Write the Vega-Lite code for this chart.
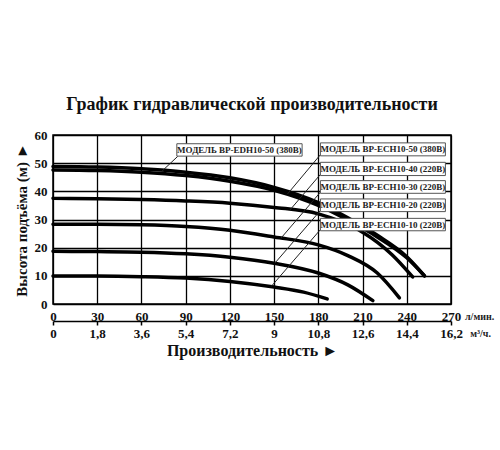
{
  "$schema": "https://vega.github.io/schema/vega-lite/v6.json",
  "autosize": "pad",
  "padding": {"left": 13, "top": 95, "right": 5, "bottom": 5},
  "background": "white",
  "bounds": "flush",
  "spacing": 16,
  "config": {
    "font": "Liberation Serif",
    "view": {"stroke": "black", "strokeWidth": 1.5}
  },
  "datasets": {
    "curves": [
      {"model": "EDH10-50", "flow": 0, "head": 48.8}, {"model": "EDH10-50", "flow": 30, "head": 48.6}, {"model": "EDH10-50", "flow": 60, "head": 48.0}, {"model": "EDH10-50", "flow": 90, "head": 46.8}, {"model": "EDH10-50", "flow": 120, "head": 44.8}, {"model": "EDH10-50", "flow": 150, "head": 41.4}, {"model": "EDH10-50", "flow": 180, "head": 36.0}, {"model": "EDH10-50", "flow": 200, "head": 30.6}, {"model": "EDH10-50", "flow": 220, "head": 24.4}, {"model": "EDH10-50", "flow": 240, "head": 16.8}, {"model": "EDH10-50", "flow": 252, "head": 10.0},
      {"model": "ECH10-50", "flow": 0, "head": 47.6}, {"model": "ECH10-50", "flow": 30, "head": 47.4}, {"model": "ECH10-50", "flow": 60, "head": 46.8}, {"model": "ECH10-50", "flow": 90, "head": 45.6}, {"model": "ECH10-50", "flow": 120, "head": 43.6}, {"model": "ECH10-50", "flow": 150, "head": 40.4}, {"model": "ECH10-50", "flow": 180, "head": 35.0}, {"model": "ECH10-50", "flow": 200, "head": 29.8}, {"model": "ECH10-50", "flow": 220, "head": 23.8}, {"model": "ECH10-50", "flow": 240, "head": 16.4}, {"model": "ECH10-50", "flow": 252, "head": 10.0},
      {"model": "ECH10-40", "flow": 0, "head": 37.5}, {"model": "ECH10-40", "flow": 30, "head": 37.4}, {"model": "ECH10-40", "flow": 60, "head": 37.1}, {"model": "ECH10-40", "flow": 90, "head": 36.6}, {"model": "ECH10-40", "flow": 120, "head": 35.8}, {"model": "ECH10-40", "flow": 150, "head": 34.3}, {"model": "ECH10-40", "flow": 180, "head": 32.0}, {"model": "ECH10-40", "flow": 195, "head": 29.3}, {"model": "ECH10-40", "flow": 210, "head": 25.5}, {"model": "ECH10-40", "flow": 230, "head": 17.5}, {"model": "ECH10-40", "flow": 244, "head": 9.6},
      {"model": "ECH10-30", "flow": 0, "head": 28.3}, {"model": "ECH10-30", "flow": 30, "head": 28.3}, {"model": "ECH10-30", "flow": 60, "head": 28.1}, {"model": "ECH10-30", "flow": 90, "head": 27.5}, {"model": "ECH10-30", "flow": 120, "head": 26.2}, {"model": "ECH10-30", "flow": 150, "head": 23.8}, {"model": "ECH10-30", "flow": 180, "head": 21.0}, {"model": "ECH10-30", "flow": 200, "head": 17.2}, {"model": "ECH10-30", "flow": 220, "head": 11.0}, {"model": "ECH10-30", "flow": 235, "head": 2.2},
      {"model": "ECH10-20", "flow": 0, "head": 18.7}, {"model": "ECH10-20", "flow": 30, "head": 18.6}, {"model": "ECH10-20", "flow": 60, "head": 18.4}, {"model": "ECH10-20", "flow": 90, "head": 17.8}, {"model": "ECH10-20", "flow": 120, "head": 16.6}, {"model": "ECH10-20", "flow": 150, "head": 14.5}, {"model": "ECH10-20", "flow": 180, "head": 11.0}, {"model": "ECH10-20", "flow": 200, "head": 6.8}, {"model": "ECH10-20", "flow": 217, "head": 1.2},
      {"model": "ECH10-10", "flow": 0, "head": 9.9}, {"model": "ECH10-10", "flow": 30, "head": 9.9}, {"model": "ECH10-10", "flow": 60, "head": 9.7}, {"model": "ECH10-10", "flow": 90, "head": 9.2}, {"model": "ECH10-10", "flow": 120, "head": 8.0}, {"model": "ECH10-10", "flow": 150, "head": 6.0}, {"model": "ECH10-10", "flow": 170, "head": 4.2}, {"model": "ECH10-10", "flow": 186, "head": 1.8}
    ],
    "boxes": [
      {"flow": 84, "flow2": 169, "head": 52.5, "head2": 56.9},
      {"flow": 181.4, "flow2": 266.2, "head": 52.6, "head2": 57.2},
      {"flow": 181.4, "flow2": 266.2, "head": 45.6, "head2": 50.3},
      {"flow": 181.4, "flow2": 266.2, "head": 39.3, "head2": 43.8},
      {"flow": 181.4, "flow2": 266.2, "head": 32.8, "head2": 37.3},
      {"flow": 181.4, "flow2": 266.2, "head": 26.0, "head2": 30.4}
    ],
    "labels": [
      {"label": "МОДЕЛЬ BP-EDH10-50 (380В)", "flow": 126.5, "head": 54.7},
      {"label": "МОДЕЛЬ BP-ECH10-50 (380В)", "flow": 223.8, "head": 54.9},
      {"label": "МОДЕЛЬ BP-ECH10-40 (220В)", "flow": 223.8, "head": 47.95},
      {"label": "МОДЕЛЬ BP-ECH10-30 (220В)", "flow": 223.8, "head": 41.55},
      {"label": "МОДЕЛЬ BP-ECH10-20 (220В)", "flow": 223.8, "head": 35.05},
      {"label": "МОДЕЛЬ BP-ECH10-10 (220В)", "flow": 223.8, "head": 28.2}
    ],
    "leaders": [
      {"flow": 85, "head": 52.6, "flow2": 74, "head2": 47.2},
      {"flow": 181.4, "head": 53.0, "flow2": 159, "head2": 39.0},
      {"flow": 181.4, "head": 46.0, "flow2": 160.8, "head2": 33.4},
      {"flow": 181.4, "head": 39.7, "flow2": 154.7, "head2": 23.4},
      {"flow": 181.4, "head": 33.2, "flow2": 150.5, "head2": 14.5},
      {"flow": 181.4, "head": 26.4, "flow2": 148, "head2": 6.2}
    ],
    "units": [
      {"u": "л/мин.", "flow": 279.5, "head": -4.6},
      {"u": "м³/ч.", "flow": 283, "head": -10.6}
    ],
    "ticks": [{"flow": 0}, {"flow": 30}, {"flow": 60}, {"flow": 90}, {"flow": 120}, {"flow": 150}, {"flow": 180}, {"flow": 210}, {"flow": 240}, {"flow": 270}]
  },
  "vconcat": [
    {
      "title": {"text": "График гидравлической производительности", "fontSize": 18, "fontWeight": "bold", "anchor": "middle", "frame": "group", "offset": 15, "color": "#111"},
      "width": 398,
      "height": 169,
      "encoding": {
        "x": {"field": "flow", "type": "quantitative", "scale": {"domain": [0, 270], "nice": false},
          "axis": {"orient": "bottom", "values": [0, 30, 60, 90, 120, 150, 180, 210, 240, 270], "grid": true, "gridColor": "black", "gridWidth": 1.3, "gridOpacity": 1, "domain": false, "ticks": false, "tickSize": 0, "labelPadding": 6, "labelFontSize": 13, "labelFontWeight": "bold", "labelColor": "#111", "labelFlush": false, "labelOverlap": false, "labelBound": false, "title": null}},
        "y": {"field": "head", "type": "quantitative", "scale": {"domain": [0, 60], "nice": false},
          "axis": {"values": [0, 10, 20, 30, 40, 50, 60], "grid": true, "gridColor": "black", "gridWidth": 1.3, "gridOpacity": 1, "domain": false, "ticks": false, "tickSize": 0, "labelPadding": 6, "labelFontSize": 13, "labelFontWeight": "bold", "labelColor": "#111", "labelFlush": false, "labelOverlap": false, "title": "Высота подъёма (м) ►", "titleFontSize": 15, "titleFontWeight": "bold", "titleColor": "#111", "titlePadding": 5}}
      },
      "layer": [
        {
          "data": {"name": "curves"},
          "mark": {"type": "line", "interpolate": "monotone", "color": "black", "strokeWidth": 3.5, "strokeCap": "round"},
          "encoding": {"detail": {"field": "model"}}
        },
        {
          "data": {"name": "leaders"},
          "mark": {"type": "rule", "color": "#222", "strokeWidth": 1},
          "encoding": {"x2": {"field": "flow2"}, "y2": {"field": "head2"}}
        },
        {
          "data": {"name": "boxes"},
          "mark": {"type": "rect", "fill": "white", "stroke": "#555", "strokeWidth": 1},
          "encoding": {"x2": {"field": "flow2"}, "y2": {"field": "head2"}}
        },
        {
          "data": {"name": "labels"},
          "mark": {"type": "text", "fontSize": 9, "fontWeight": "bold", "color": "#222", "align": "center", "baseline": "middle"},
          "encoding": {"text": {"field": "label"}}
        },
        {
          "data": {"name": "units"},
          "mark": {"type": "text", "fontSize": 10, "fontWeight": "bold", "color": "#222", "align": "left", "baseline": "middle"},
          "encoding": {"text": {"field": "u"}}
        }
      ]
    },
    {
      "width": 398,
      "height": 1,
      "view": {"stroke": null},
      "data": {"name": "ticks"},
      "mark": {"type": "point", "opacity": 0},
      "encoding": {
        "x": {"field": "flow", "type": "quantitative", "scale": {"domain": [0, 270], "nice": false},
          "axis": {"orient": "bottom", "values": [0, 30, 60, 90, 120, 150, 180, 210, 240, 270], "grid": false, "domain": true, "domainColor": "black", "domainWidth": 1.5, "ticks": true, "tickColor": "black", "tickWidth": 1.5, "tickSize": 4, "labelPadding": 2, "labelFontSize": 13, "labelFontWeight": "bold", "labelColor": "#111", "labelFlush": false, "labelOverlap": false, "labelBound": false, "labelExpr": "replace(format(datum.value * 0.06, '.2~f'), '.', ',')", "title": "Производительность ►", "titleFontSize": 16, "titleFontWeight": "bold", "titleColor": "#111", "titlePadding": 2}}
      }
    }
  ]
}
